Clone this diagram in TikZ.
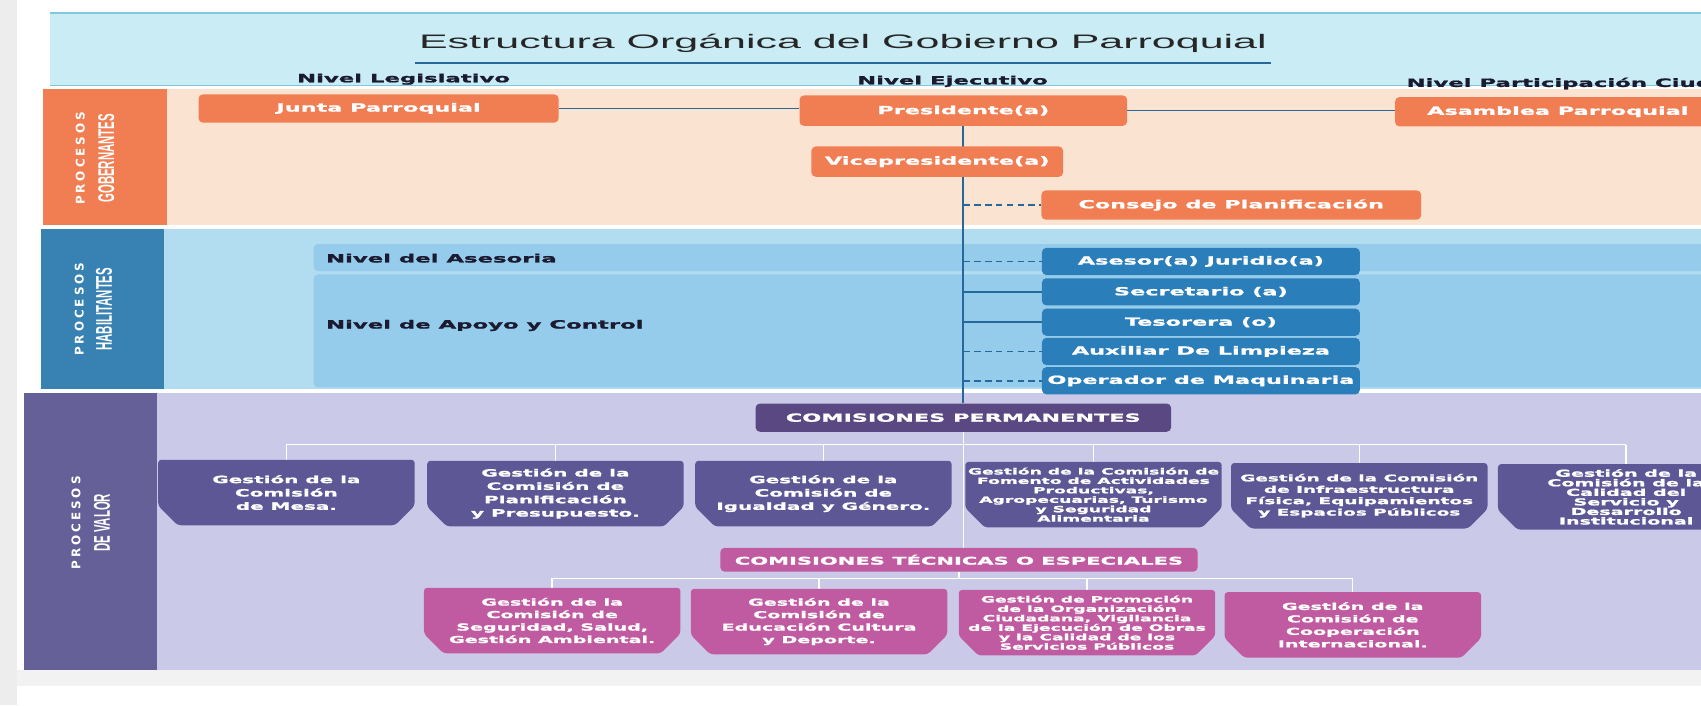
\documentclass[tikz,border=0pt]{standalone}
\usepackage{fontspec}
\setmainfont{DejaVu Sans}
\newfontfamily\anchafont[FakeStretch=2,FakeBold=1.5]{DejaVu Sans}
\newfontfamily\titulofont[FakeStretch=2.2]{Liberation Sans}
\newfontfamily\estrechafont[FakeStretch=0.5]{Liberation Sans}
\newfontfamily\espaciofont[LetterSpace=25]{DejaVu Sans}
\definecolor{cian}{RGB}{202,236,245}
\definecolor{bordecian}{RGB}{128,200,222}
\definecolor{naranja}{RGB}{241,126,83}
\definecolor{fondonaranja}{RGB}{251,227,210}
\definecolor{tiraazul}{RGB}{55,129,179}
\definecolor{fondoazul}{RGB}{178,220,240}
\definecolor{panelazul}{RGB}{150,204,235}
\definecolor{azul}{RGB}{42,126,186}
\definecolor{eje}{RGB}{38,104,156}
\definecolor{tiralila}{RGB}{102,96,152}
\definecolor{fondolila}{RGB}{202,202,232}
\definecolor{morado}{RGB}{90,72,130}
\definecolor{lila}{RGB}{93,87,150}
\definecolor{rosa}{RGB}{193,91,161}
\definecolor{tinta}{RGB}{26,26,48}
\pgfdeclarelayer{fondo}
\pgfsetlayers{fondo,main}

\begin{document}
\begin{tikzpicture}[x=1pt,y=-1pt,
  caja/.style={rounded corners=4pt,inner sep=0pt,text=white,font=\anchafont\bfseries\fontsize{10.3}{12}\selectfont},
  cnar/.style={caja,fill=naranja,minimum height=26pt},
  cazu/.style={caja,fill=azul,minimum width=293pt,minimum height=25pt},
  cmor/.style={caja,fill=morado,minimum width=383pt,minimum height=26pt},
  crosa/.style={caja,fill=rosa,minimum width=440pt,minimum height=22pt,font=\anchafont\bfseries\fontsize{9.7}{11}\selectfont},
  gest/.style={inner sep=0pt,text=white,align=center,minimum width=236pt,minimum height=60pt,font=\anchafont\bfseries\fontsize{9.2}{12.3}\selectfont},
  gestd/.style={gest,font=\anchafont\bfseries\fontsize{7.9}{8.7}\selectfont},
  titulo/.style={text=black!85,font=\titulofont\fontsize{18}{22}\selectfont},
  nivel/.style={text=tinta,font=\anchafont\bfseries\fontsize{10.5}{12}\selectfont},
  proc/.style={rotate=90,text=white,font=\espaciofont\bfseries\fontsize{11}{12}\selectfont},
  tipo/.style={rotate=90,text=white,font=\estrechafont\bfseries\fontsize{21}{21}\selectfont},
  enlace/.style={eje,line width=1.3pt},
  rama/.style={eje,line width=1.6pt},
  trazos/.style={dash pattern=on 6pt off 4pt},
  subrayado/.style={eje,line width=1.2pt},
  bus/.style={white,line width=1.3pt}]
\useasboundingbox (0,0) rectangle (1568,650);
\node[titulo,anchor=base] (tit) at (777,45) {Estructura Orgánica del Gobierno Parroquial};
\node[nivel] (nleg) at (372,73) {Nivel Legislativo};
\node[nivel] (neje) at (878,75) {Nivel Ejecutivo};
\node[nivel,anchor=west] (npar) at (1293,77) {Nivel Participación Ciudadana};

\node[proc] (pgob) at (74,146) {PROCESOS};
\node[tipo] (tgob) at (98,146) {GOBERNANTES};
\node[proc] (phab) at (73,285) {PROCESOS};
\node[tipo] (thab) at (96,285) {HABILITANTES};
\node[proc] (pval) at (70,482) {PROCESOS};
\node[tipo] (tval) at (94,482) {DE VALOR};

\node[cnar,minimum width=332pt] (junta) at (349,100) {Junta Parroquial};
\node[cnar,minimum width=302pt,minimum height=28pt] (pres) at (888,102) {Presidente(a)};
\node[cnar,minimum width=300pt,minimum height=27pt] (asam) at (1436,103) {Asamblea Parroquial};
\node[cnar,minimum width=232pt,minimum height=28pt] (vice) at (864,149) {Vicepresidente(a)};
\node[cnar,minimum width=350pt,minimum height=27pt] (cons) at (1135,189) {Consejo de Planificación};

\node[nivel,anchor=west] (nase) at (297,238) {Nivel del Asesoria};
\node[nivel,anchor=west] (napo) at (297,300) {Nivel de Apoyo y Control};
\node[cazu] (ases) at (1107,241) {Asesor(a) Juridio(a)};
\node[cazu] (secr) at (1107,269) {Secretario (a)};
\node[cazu] (teso) at (1107,297) {Tesorera (o)};
\node[cazu] (auxl) at (1107,324) {Auxiliar De Limpieza};
\node[cazu] (oper) at (1107,351) {Operador de Maquinaria};

\node[cmor] (comp) at (888,385) {COMISIONES PERMANENTES};
\node[gest] (g1) at (264,454) {Gestión de la\\Comisión\\de Mesa.};
\node[gest] (g2) at (512,455) {Gestión de la\\Comisión de\\Planificación\\y Presupuesto.};
\node[gest] (g3) at (759,455) {Gestión de la\\Comisión de\\Igualdad y Género.};
\node[gestd] (g4) at (1008,456) {Gestión de la Comisión de\\Fomento de Actividades\\Productivas,\\Agropecuarias, Turismo\\y Seguridad\\Alimentaria};
\node[gest,font=\anchafont\bfseries\fontsize{8.5}{10.5}\selectfont] (g5) at (1253,457) {Gestión de la Comisión\\de Infraestructura\\Física, Equipamientos\\y Espacios Públicos};
\node[gest,font=\anchafont\bfseries\fontsize{8.8}{8.8}\selectfont] (g6) at (1499,458) {Gestión de la\\Comisión de la\\Calidad del\\Servicio y\\Desarrollo\\Institucional};
\node[crosa] (comt) at (884,516) {COMISIONES TÉCNICAS O ESPECIALES};
\node[gest,font=\anchafont\bfseries\fontsize{8.8}{11.5}\selectfont] (t1) at (509,572) {Gestión de la\\Comisión de\\Seguridad, Salud,\\Gestión Ambiental.};
\node[gest,font=\anchafont\bfseries\fontsize{8.8}{11.5}\selectfont] (t2) at (755,573) {Gestión de la\\Comisión de\\Educación Cultura\\y Deporte.};
\node[gestd] (t3) at (1002,574) {Gestión de Promoción\\de la Organización\\Ciudadana, Vigilancia\\de la Ejecución de Obras\\y la Calidad de los\\Servicios Públicos};
\node[gest,font=\anchafont\bfseries\fontsize{8.8}{11.5}\selectfont] (t4) at (1247,576) {Gestión de la\\Comisión de\\Cooperación\\Internacional.};

\begin{pgfonlayer}{fondo}
\fill[gray!14] (0,0) rectangle (16,650);
\fill[cian] (46,12) rectangle (1568,79);
\draw[bordecian,line width=1pt] (46,12) -- (1568,12) (46,79) -- (1568,79);
\fill[fondonaranja] (40,82) rectangle (1568,207);
\fill[naranja] (40,82) rectangle (154,207);
\fill[fondoazul] (38,211) rectangle (1568,359);
\fill[tiraazul] (38,211) rectangle (151,359);
\fill[panelazul,rounded corners=4pt] (289,225) rectangle (1600,250);
\fill[panelazul,rounded corners=4pt] (289,253) rectangle (1600,357);
\fill[fondolila] (22,362) rectangle (1568,618);
\fill[tiralila] (22,362) rectangle (145,618);
\fill[gray!10] (16,618) rectangle (1568,632);
\draw[subrayado] ([yshift=-13pt]tit.base west) -- ([yshift=-13pt]tit.base east);
\draw[enlace] (junta.east) -- (junta.east -| pres.west);
\draw[enlace] (pres.east) -- (pres.east -| asam.west);
\draw[rama,line width=2pt] (pres.south) -- (comp.north);
\draw[rama,trazos] (cons.west -| pres.south) -- (cons.west);
\foreach \n/\estilo in {ases/trazos,secr/solid,teso/solid,auxl/trazos,oper/trazos}
  \draw[rama,\estilo] (\n.west -| pres.south) -- (\n.west);
\coordinate (b1) at (888,410);
\coordinate (b2) at (884,533);
\draw[bus] (comp.south) -- (comp.south |- comt.north);
\draw[bus] (g1.north |- b1) -- (g6.north |- b1);
\foreach \n in {g1,g2,g3,g4,g5,g6}
  \draw[bus] (\n.north |- b1) -- (\n.north);
\draw[bus] (comt.south) -- (comt.south |- b2);
\draw[bus] (t1.north |- b2) -- (t4.north |- b2);
\foreach \n in {t1,t2,t3,t4}
  \draw[bus] (\n.north |- b2) -- (\n.north);
\foreach \n/\c in {g1/lila,g2/lila,g3/lila,g4/lila,g5/lila,g6/lila,t1/rosa,t2/rosa,t3/rosa,t4/rosa}
  \fill[\c,rounded corners=3pt] (\n.north west) -- (\n.north east) -- ([yshift=18pt]\n.south east)
    -- ([xshift=-18pt]\n.south east) -- ([xshift=18pt]\n.south west) -- ([yshift=18pt]\n.south west) -- cycle;
\end{pgfonlayer}
\end{tikzpicture}
\end{document}
